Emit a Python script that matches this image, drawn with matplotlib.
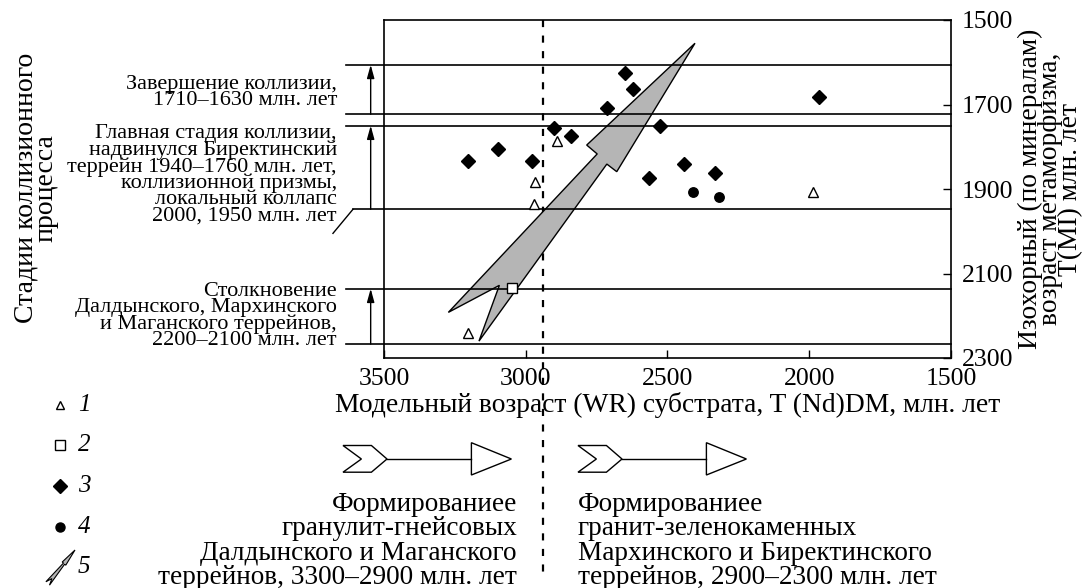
import matplotlib
matplotlib.use('Agg')
import matplotlib.pyplot as plt
from matplotlib.patches import Polygon
from matplotlib.transforms import blended_transform_factory
import numpy as np

plt.rcParams['font.family'] = ['Liberation Serif', 'DejaVu Serif']

# --- data ---
tri_x = [2891, 2967, 2970, 1988, 3205]
tri_y = [1786, 1883, 1935, 1908, 2240]
sq_x = [3050]
sq_y = [2135]
dia_x = [3203, 3099, 2979, 2901, 2842, 2714, 2650, 2621, 2525, 2566, 2441, 2334, 1964]
dia_y = [1833, 1806, 1834, 1756, 1774, 1708, 1625, 1663, 1752, 1873, 1840, 1861, 1682]
circ_x = [2409, 2318]
circ_y = [1907, 1920]

stage_lines = [1606, 1723, 1750, 1948, 2136, 2267]
stage_from = [1723, 1948, 2267]
stage_to = [1606, 1750, 2136]
stage_text_y = [1672, 1867, 2200]
stage_text = ['Завершение коллизии,\n1710–1630 млн. лет',
              'Главная стадия коллизии,\nнадвинулся Биректинский\nтеррейн 1940–1760 млн. лет,\n'
              'коллизионной призмы,\nлокальный коллапс\n2000, 1950 млн. лет',
              'Столкновение\nДалдынского, Мархинского\nи Маганского террейнов,\n2200–2100 млн. лет']
boundary_age = 2940

# big trend arrow (5), outline in data units
arrow_x = [2403, 2679, 2714, 3165, 3093, 3273, 2748, 2785]
arrow_y = [1555, 1859, 1841, 2260, 2128, 2192, 1817, 1796]

xticks = [3500, 3000, 2500, 2000, 1500]
yticks = [1500, 1700, 1900, 2100, 2300]

W, H = 1082, 588
fig = plt.figure(figsize=(W / 100, H / 100), dpi=100)

# overlay in pixel coords for legend and bottom scheme
ov = fig.add_axes([0, 0, 1, 1], zorder=0)
ov.set_xlim(0, W)
ov.set_ylim(H, 0)
ov.axis('off')

ax = fig.add_axes([384 / W, 1 - 358 / H, (951 - 384) / W, (358 - 20) / H], zorder=1)
ax.set_xlim(3500, 1500)
ax.set_ylim(2300, 1500)
ax.patch.set_alpha(0)
for s in ax.spines.values():
    s.set_linewidth(1.2)

ax.set_xticks(xticks)
ax.set_yticks(yticks)
ax.yaxis.tick_right()
ax.tick_params(axis='x', direction='in', length=6, width=1, labelsize=18.5, pad=7.5)
ax.tick_params(axis='y', direction='in', length=6, width=1, labelsize=18.5, pad=8)
ax.set_xlabel('Модельный возраст (WR) субстрата, T (Nd)DM, млн. лет', fontsize=19.8, labelpad=1.5)

ax.text(1.175, 0.5, 'Изохорный (по минералам)\nвозраст метаморфизма,\nT(MI) млн. лет',
        transform=ax.transAxes, rotation=90, ha='center', va='center',
        fontsize=19.8, linespacing=0.73, multialignment='center')
fig.text(36 / W, 1 - 188 / H, 'Стадии коллизионного\nпроцесса', rotation=90,
         ha='center', va='center', fontsize=20, linespacing=0.77, multialignment='center')

# stage lines and arrows
bt = blended_transform_factory(ax.transAxes, ax.transData)
for v in stage_lines:
    x0 = -0.0547 if v == 1948 else -0.067
    ax.plot([x0, 1], [v, v], color='black', lw=1.2, transform=bt, clip_on=False, zorder=3)
ax.plot([-0.0547, -0.09], [1948, 2005], color='black', lw=1, transform=bt, clip_on=False)
for a, b in zip(stage_from, stage_to):
    ax.annotate('', xy=(-0.0235, b), xytext=(-0.0235, a), xycoords=bt, textcoords=bt,
                annotation_clip=False,
                arrowprops=dict(arrowstyle='-|>,head_length=0.8,head_width=0.22',
                                color='black', lw=1, shrinkA=0, shrinkB=0))
for t, y in zip(stage_text, stage_text_y):
    ax.text(-0.083, y, t, transform=bt, ha='right', va='center', fontsize=16,
            linespacing=0.8, multialignment='right')

# boundary dashed line
bv = blended_transform_factory(ax.transData, ax.transAxes)
ax.plot([boundary_age, boundary_age], [1, -0.648], transform=bv, clip_on=False,
        color='black', lw=1.6, ls=(0, (3.2, 3.8)), zorder=2)

# big arrow
ax.add_patch(Polygon(np.column_stack([arrow_x, arrow_y]), closed=True,
                     facecolor='#b5b5b5', edgecolor='black', lw=1, zorder=2))

# points
ax.plot(dia_x, dia_y, 'D', color='black', ms=7.3, zorder=4, clip_on=False)
ax.plot(circ_x, circ_y, 'o', color='black', ms=6.8, zorder=4)
ax.plot(tri_x, tri_y, '^', mfc='white', mec='black', mew=1, ms=7, zorder=5)
ax.plot(sq_x, sq_y, 's', mfc='white', mec='black', mew=1, ms=7, zorder=5)

# legend (left bottom)
leg_y = [405, 445, 486, 527, 567]
ov.plot(60, leg_y[0], '^', mfc='white', mec='black', mew=1, ms=6)
ov.plot(60, leg_y[1], 's', mfc='white', mec='black', mew=1, ms=6.5)
ov.plot(60, leg_y[2], 'D', color='black', ms=7)
ov.plot(60, leg_y[3], 'o', color='black', ms=6.5)
for i, y in enumerate(leg_y):
    ov.text(78, y, str(i + 1), fontsize=18, style='italic', ha='left', va='center')

# small copy of the arrow for item 5
disp = ax.transData.transform(np.column_stack([arrow_x, arrow_y]))
pix = np.column_stack([disp[:, 0], H - disp[:, 1]])
icon = (pix - pix[0]) * 0.118 + np.array([75, 550])
ov.add_patch(Polygon(icon, closed=True, facecolor='#b5b5b5', edgecolor='black', lw=0.8))


def chevron_arrow(x0, yc):
    ov.add_patch(Polygon([(x0, yc - 13.5), (x0 + 28.4, yc - 13.5), (x0 + 44, yc),
                          (x0 + 28.4, yc + 13.2), (x0, yc + 13.2), (x0 + 18.4, yc)],
                         closed=True, facecolor='white', edgecolor='black', lw=1))
    ov.plot([x0 + 44, x0 + 128.4], [yc, yc], color='black', lw=1)
    ov.add_patch(Polygon([(x0 + 128.4, yc - 16.3), (x0 + 168.4, yc), (x0 + 128.4, yc + 16)],
                         closed=True, facecolor='white', edgecolor='black', lw=1))


chevron_arrow(343, 459)
chevron_arrow(578, 459)

ov.text(517, 541, 'Формированиее\nгранулит-гнейсовых\nДалдынского и Маганского\nтеррейнов, 3300–2900 млн. лет',
        ha='right', va='center', fontsize=19.6, linespacing=0.96, multialignment='right')
ov.text(578, 541, 'Формированиее\nгранит-зеленокаменных\nМархинского и Биректинского\nтеррейнов, 2900–2300 млн. лет',
        ha='left', va='center', fontsize=19.6, linespacing=0.96, multialignment='left')

fig.savefig('out.png', dpi=100)
